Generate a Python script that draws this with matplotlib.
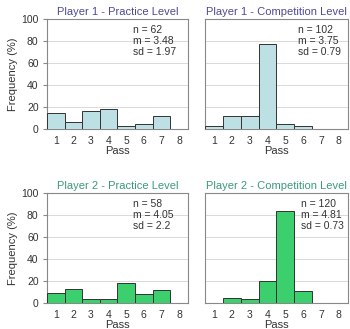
import matplotlib.pyplot as plt
import numpy as np

plt.rcParams['font.family'] = ['Liberation Sans', 'DejaVu Sans']

passes = [1, 2, 3, 4, 5, 6, 7, 8]

p1_practice = [14.5, 6, 16.3, 18.4, 3, 4.8, 11.8, 0]
p1_competition = [2.7, 12, 12, 77.6, 4.5, 2.7, 0, 0]
p2_practice = [9.4, 13, 3.3, 3.3, 17.9, 7.9, 12.1, 0]
p2_competition = [0, 4.5, 3.6, 19.7, 83.6, 10.6, 0, 0]

titles = ["Player 1 - Practice Level", "Player 1 - Competition Level",
          "Player 2 - Practice Level", "Player 2 - Competition Level"]
stats = ["n = 62\nm = 3.48\nsd = 1.97", "n = 102\nm = 3.75\nsd = 0.79",
         "n = 58\nm = 4.05\nsd = 2.2", "n = 120\nm = 4.81\nsd = 0.73"]
series = [p1_practice, p1_competition, p2_practice, p2_competition]

bar_colors = ["#bde0e4", "#bde0e4", "#3ccf6e", "#3ccf6e"]
title_colors = ["#4b4b96", "#4b4b96", "#3a9a7a", "#3a9a7a"]

fig = plt.figure(figsize=(3.5, 3.29), dpi=100)
positions = [
    [0.134, 0.608, 0.403, 0.334],
    [0.586, 0.608, 0.407, 0.334],
    [0.134, 0.079, 0.403, 0.334],
    [0.586, 0.079, 0.407, 0.334],
]
# where each stats block starts, in axes fraction
stats_x = [0.61, 0.65, 0.61, 0.67]

for i, pos in enumerate(positions):
    ax = fig.add_axes(pos)
    ax.bar(passes, series[i], width=1.0, color=bar_colors[i],
           edgecolor="#333333", linewidth=0.7, zorder=3)
    ax.set_xlim(0.5, 8.5)
    ax.set_ylim(0, 100)
    ax.set_yticks([0, 20, 40, 60, 80, 100])
    ax.set_xticks(passes)
    ax.grid(axis="y", color="#d9d9d9", linewidth=0.7, zorder=0)
    for s in ax.spines.values():
        s.set_color("#888888")
        s.set_linewidth(0.8)
    ax.tick_params(axis="x", length=0, labelsize=7.5, pad=5, labelcolor="#333333")
    ax.tick_params(axis="y", length=3, color="#888888", labelsize=7.5, pad=3,
                   labelcolor="#333333")
    if i % 2 == 1:
        ax.set_yticklabels([])
        ax.tick_params(axis="y", length=0)
    else:
        ax.set_ylabel("Frequency (%)", fontsize=8, labelpad=2, color="#333333")
    ax.set_xlabel("Pass", fontsize=8, labelpad=0, color="#333333")
    ax.set_title(titles[i], fontsize=8, color=title_colors[i], pad=3)
    ax.text(stats_x[i], 0.95, stats[i], transform=ax.transAxes, ha="left",
            va="top", fontsize=7.5, linespacing=1.15, zorder=4,
            color="#333333")

fig.savefig("out.png", dpi=100)
